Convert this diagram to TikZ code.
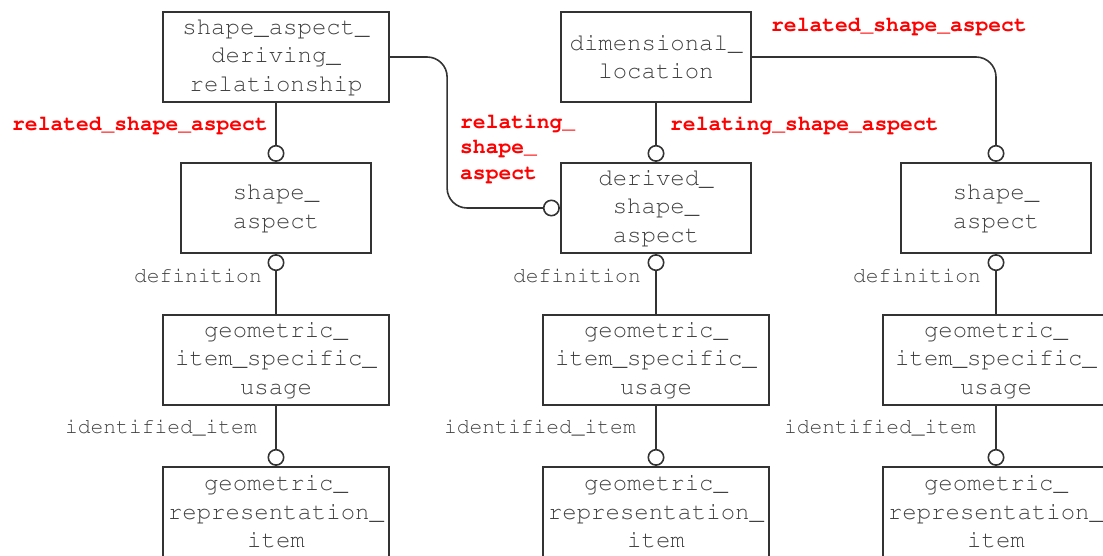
\documentclass[tikz,border=0pt]{standalone}
\usetikzlibrary{arrows.meta}
\newcommand{\courfam}{\fontencoding{T1}\fontfamily{pcr}\selectfont}
\tikzset{
	ent/.style={draw=black!80, line width=2.2pt, minimum height=90pt, inner sep=0pt,
		align=center, text=black!75, font=\courfam\fontsize{24}{28.5}\selectfont},
	entn/.style={ent, minimum width=190pt},
	entw/.style={ent, minimum width=226pt},
	conn/.style={draw=black!80, line width=1.6pt},
	opn/.style={-{Circle[open, length=17pt, width=17pt]}},
	nop/.style={{Circle[open, length=17pt, width=17pt]}-},
	rel/.style={inner sep=0pt, text=red, align=left,
		font=\courfam\bfseries\fontsize{21.3}{25.5}\selectfont},
	role/.style={inner sep=0pt, text=black!75, font=\courfam\fontsize{21.3}{25.5}\selectfont}
}
\begin{document}
\begin{tikzpicture}[x=1pt, y=-1pt]
	\clip (0,0) rectangle (1103,556);
	% entities
	\node[entw] (sadr) at (276,57) {shape\_aspect\_\\deriving\_\\relationship};
	\node[entn] (dl) at (656,57) {dimensional\_\\location};
	\node[entn] (sa1) at (276,208) {shape\_\\aspect};
	\node[entn] (dsa) at (656,208) {derived\_\\shape\_\\aspect};
	\node[entn] (sa2) at (996,208) {shape\_\\aspect};
	\node[entw] (gisu1) at (276,360) {geometric\_\\item\_specific\_\\usage};
	\node[entw] (gisu2) at (656,360) {geometric\_\\item\_specific\_\\usage};
	\node[entw] (gisu3) at (996,360) {geometric\_\\item\_specific\_\\usage};
	\node[entw] (gri1) at (276,512) {geometric\_\\representation\_\\item};
	\node[entw] (gri2) at (656,512) {geometric\_\\representation\_\\item};
	\node[entw] (gri3) at (996,512) {geometric\_\\representation\_\\item};
	% relations
	\draw[conn, opn] (sadr.south) -- (sa1.north);
	\draw[conn, opn, rounded corners=20pt] (sadr.east) -- ++(57,0) |- (dsa.west);
	\draw[conn, opn] (dl.south) -- (dsa.north);
	\draw[conn, opn, rounded corners=20pt] (dl.east) -| (sa2.north);
	\draw[conn, nop] (sa1.south) -- (gisu1.north);
	\draw[conn, nop] (dsa.south) -- (gisu2.north);
	\draw[conn, nop] (sa2.south) -- (gisu3.north);
	\draw[conn, opn] (gisu1.south) -- (gri1.north);
	\draw[conn, opn] (gisu2.south) -- (gri2.north);
	\draw[conn, opn] (gisu3.south) -- (gri3.north);
	% role names
	\node[rel, anchor=east] (rsa1) at (268,125) {related\_shape\_aspect};
	\node[rel, anchor=west] (rsa2) at (460,148) {relating\_\\shape\_\\aspect};
	\node[rel, anchor=west] (rsa3) at (670,125) {relating\_shape\_aspect};
	\node[rel, anchor=west] (rsa4) at (771,26) {related\_shape\_aspect};
	\node[role, anchor=east] (def1) at (262,276) {definition};
	\node[role, anchor=east] (def2) at (641,276) {definition};
	\node[role, anchor=east] (def3) at (981,276) {definition};
	\node[role, anchor=east] (idi1) at (257,428) {identified\_item};
	\node[role, anchor=east] (idi2) at (636,428) {identified\_item};
	\node[role, anchor=east] (idi3) at (976,428) {identified\_item};
\end{tikzpicture}
\end{document}
